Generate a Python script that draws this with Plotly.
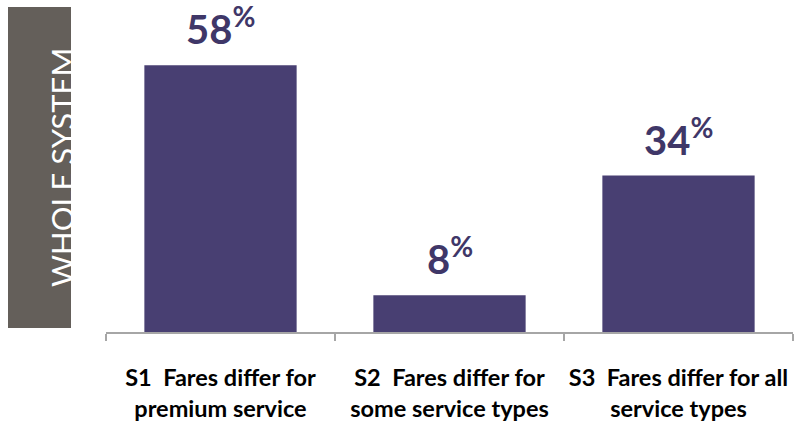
import plotly.graph_objects as go

categories = ["S1  Fares differ for<br>premium service",
              "S2  Fares differ for<br>some service types",
              "S3  Fares differ for all<br>service types"]
values = [58, 8, 34]
side_label = "WHOLE SYSTEM"

bar_color = "#483f72"
label_color = "#3f3768"

W, H = 795, 422
L, R, T, B = 106, 2, 10, 90
pw = W - L - R
ph = H - T - B

def px_x(p):
    return (p - L) / pw

def px_y(p):
    return (H - B - p) / ph

fig = go.Figure()
fig.add_trace(go.Bar(
    x=[f"<b>{c}</b>" for c in categories],
    y=values,
    marker=dict(color=bar_color, line=dict(width=0)),
    width=0.665,
    hoverinfo="skip",
))

for c, v in zip(categories, values):
    fig.add_annotation(
        x=f"<b>{c}</b>", y=v, xref="x", yref="y",
        text=f"<b>{v}<sup>%</sup></b>",
        showarrow=False, yanchor="bottom", yshift=10,
        font=dict(family="Lato", size=40, color=label_color, weight=900),
    )

fig.add_shape(type="rect", xref="paper", yref="paper",
              x0=px_x(8), x1=px_x(71), y0=px_y(328), y1=px_y(7),
              fillcolor="#645f5a", line=dict(width=0), layer="below")
fig.add_annotation(x=px_x(41), y=px_y(168), xref="paper", yref="paper",
                   text=side_label, textangle=-90, showarrow=False,
                   font=dict(family="Lato", size=31, color="white"))

fig.update_layout(
    width=W, height=H,
    margin=dict(l=L, r=R, t=T, b=B, autoexpand=False),
    paper_bgcolor="white", plot_bgcolor="white",
    showlegend=False,
    bargap=0.335,
    xaxis=dict(showline=True, linecolor="#a6a6a6", linewidth=1.5,
               ticks="outside", tickson="boundaries", ticklen=7,
               tickcolor="#a6a6a6", tickwidth=1.5, automargin=False,
               tickangle=0,
               tickfont=dict(family="Lato", size=23.5, color="black"),
               ticklabelstandoff=24, showgrid=False),
    yaxis=dict(range=[0, 70], visible=False, showgrid=False, automargin=False),
)

fig.write_html("out.html", config={"displayModeBar": False},
               post_script="document.body.style.margin='0';document.body.style.overflow='hidden';")
